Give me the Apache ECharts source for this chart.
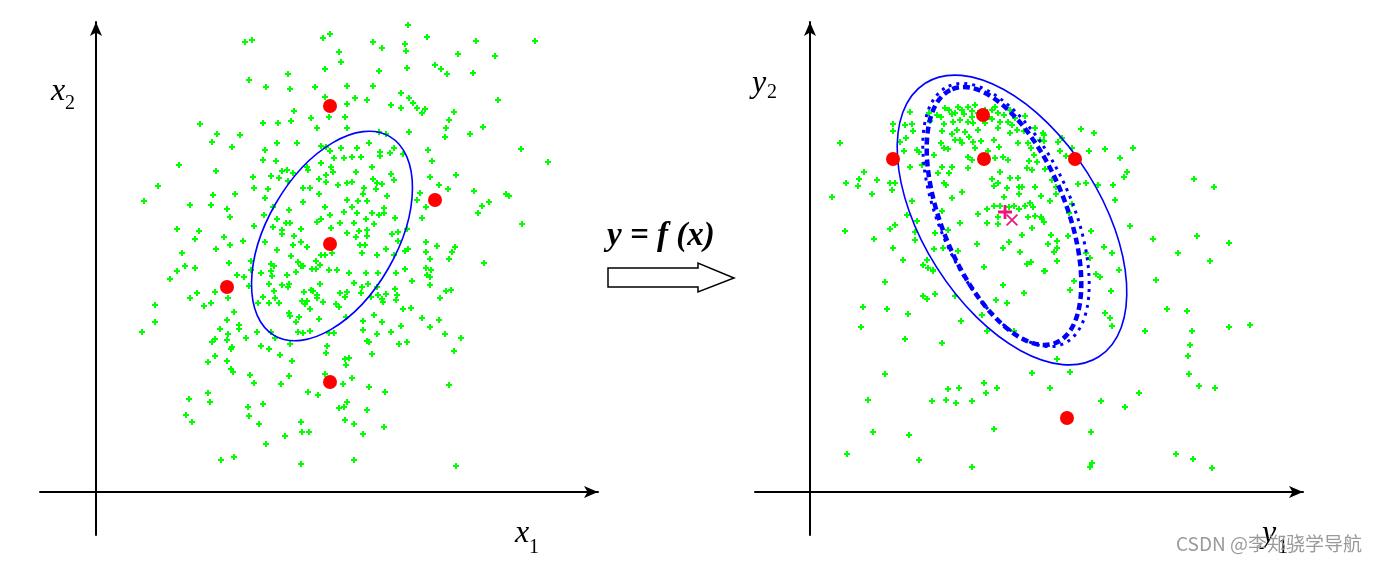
<!DOCTYPE html>
<html>
<head>
<meta charset="utf-8">
<script src="https://cdn.jsdelivr.net/npm/echarts@6/dist/echarts.min.js"></script>
<style>
  html, body { margin: 0; background: #fff; }
  #chart { width: 1382px; height: 562px; }
</style>
</head>
<body>
<div id="chart"></div>
<script>
// ---- input space x = (x1, x2): Monte Carlo samples ----
const xSamples = [
  [149,450],[156,452],[227,454],[234,458],[243,440],[245,430],[192,418],[229,423],[153,412],[170,405],
  [194,403],[219,405],[251,406],[229,395],[198,381],[215,374],[233,375],[249,375],[251,388],[104,368],
  [167,369],[182,369],[195,371],[221,364],[251,364],[121,358],[144,357],[116,350],[136,345],[181,349],
  [201,349],[169,342],[225,346],[230,345],[245,344],[83,327],[120,321],[167,332],[180,331],[234,341],
  [238,334],[248,334],[211,325],[225,329],[235,325],[186,321],[191,322],[197,319],[212,322],[62,306],
  [48,291],[94,287],[115,287],[117,297],[139,298],[157,315],[158,304],[172,303],[175,316],[183,314],
  [192,311],[207,304],[214,304],[223,313],[230,310],[230,317],[237,320],[242,307],[251,309],[223,298],
  [207,290],[169,294],[131,283],[134,275],[81,263],[103,261],[99,253],[128,255],[134,247],[147,251],
  [120,243],[158,266],[168,277],[177,285],[181,273],[193,282],[190,269],[194,269],[186,262],[186,258],
  [177,265],[205,263],[198,256],[205,250],[197,247],[169,250],[229,285],[234,277],[221,270],[225,273],
  [235,264],[244,269],[248,280],[251,292],[251,259],[211,245],
  [312,467],[331,455],[277,450],[286,444],[309,448],[310,441],[380,451],[439,451],[283,421],[311,424],
  [339,427],[345,423],[351,418],[362,438],[399,436],[377,419],[277,406],[259,394],[271,392],[305,399],
  [313,394],[295,387],[305,384],[317,389],[321,384],[326,379],[329,383],[402,392],[358,380],[353,372],
  [350,364],[349,355],[387,365],[374,358],[313,360],[283,360],[290,358],[273,349],[425,343],[452,330],
  [332,342],[336,331],[307,338],[298,344],[284,340],[294,339],[284,336],[261,344],[256,335],[265,335],
  [276,325],[334,315],[360,317],[343,307],[352,303],[378,301],[410,298],[413,296],[393,290],[386,286],
  [382,279],[426,268],[324,299],[321,292],[330,285],[326,274],[260,320],[256,310],[277,313],[281,309],
  [286,308],[295,318],[298,312],[268,304],[291,296],[280,303],[267,298],[262,291],[271,291],[256,285],
  [261,279],[270,273],[276,279],[283,277],[288,279],[288,284],[299,274],[258,269],[278,268],[263,261],
  [271,262],[260,255],[271,256],[296,258],[302,260],[311,263],[302,251],[330,250],[341,246],[359,245],
  [264,247],[269,247],[290,243],[312,243],
  [86,239],[89,226],[99,224],[81,221],[74,213],[133,229],[141,217],[148,215],[155,231],[155,222],
  [153,206],[101,199],[94,194],[119,200],[115,189],[108,186],[132,194],[59,187],[59,170],[46,160],
  [138,180],[131,172],[143,167],[143,163],[124,163],[132,158],[131,152],[119,153],[116,150],[136,145],
  [135,143],[150,154],[119,136],[112,130],[131,131],[135,123],[137,120],[154,117],[158,109],[161,160],
  [165,146],[173,143],[175,160],[179,154],[184,137],[194,148],[196,131],[193,116],[185,108],[212,100],
  [222,97],[112,99],[114,90],[93,93],[90,77],[96,70],[152,85],[153,76],[163,68],[167,88],
  [170,48],[189,56],[205,70],[206,60],[213,60],[205,28],[125,32],[138,35],[229,118],[247,108],
  [251,90],[243,84],[248,85],[249,72],[231,146],[230,139],[249,133],[253,134],[250,127],
  [181,242],[175,228],[178,226],[175,221],[176,216],[165,219],[173,208],[186,207],[193,208],[192,205],
  [178,201],[167,195],[179,194],[183,189],[173,189],[162,189],[195,236],[202,230],[205,226],[207,226],
  [200,220],[191,217],[208,200],[215,202],[217,201],[221,197],[221,194],[227,190],[206,191],[211,191],
  [209,188],[214,183],[193,179],[194,176],[203,175],[200,170],[223,173],[202,160],[207,159],[214,161],
  [233,159],[238,159],[220,231],[225,237],[229,237],[236,239],[224,227],[216,223],[220,223],[233,222],
  [241,222],[224,208],[244,199],[251,200],[249,195],[240,188],[243,185],[250,175],[253,219],
  [356,240],[353,233],[388,229],[266,239],[281,237],[298,237],[309,241],[330,240],[334,233],[330,224],
  [335,222],[331,217],[334,215],[334,207],[309,223],[316,211],[300,219],[270,219],[282,219],[258,209],
  [266,205],[272,208],[281,205],[265,199],[275,195],[282,197],[286,193],[287,190],[290,198],[301,197],
  [300,192],[299,203],[350,201],[355,202],[344,194],[307,183],[315,184],[326,174],[343,172],[334,165],
  [305,166],[295,160],[286,170],[278,177],[267,171],[267,162],[281,158],[271,151],[273,150],[303,148],
  [311,150],[349,158],[365,154],[358,141],[276,138],[256,114],[273,105],[289,100],[353,107],[271,82],
  [258,68],[288,65],[267,58],[258,32],[360,26]
];
const xSigma = [[234,386],[131,205],[234,248],[339,292],[234,110]];
// covariance ellipse: [centre x1, centre x2, semi-major, semi-minor, tilt deg]
const xEllipse = [[236,256,115,65,60]];

// ---- output space y = f(x): transformed samples ----
const ySamples = [
  [30,349],[22,295],[36,309],[49,313],[48,306],[54,320],[67,312],[62,298],[83,368],[83,361],
  [95,367],[102,368],[103,361],[96,354],[90,350],[94,341],[100,380],[107,342],[109,340],[100,325],
  [112,327],[80,309],[85,309],[82,302],[35,261],[64,253],[80,263],[85,267],[83,244],[93,232],
  [97,277],[102,291],[105,260],[105,252],[107,271],[113,227],[117,232],[118,224],[123,222],[125,259],
  [133,244],[124,243],[132,281],[138,262],[150,269],[148,241],[152,300],[142,294],[168,278],[167,248],
  [177,269],[177,283],[174,225],[188,268],[184,286],[188,275],[190,286],[194,295],[199,285],[204,286],
  [209,283],[209,298],[209,305],[215,286],[220,289],[223,285],[218,275],[222,264],[225,276],[231,296],
  [231,275],[234,270],[212,257],[199,250],[210,240],[217,228],[221,230],[234,221],[193,244],[197,304],
  [200,314],[190,320],[198,332],[188,309],[184,306],[182,313],[208,314],[212,305],[217,324],[222,322],
  [219,331],[224,337],[221,344],[218,349],[208,349],[200,359],[207,362],[214,361],[225,364],[233,359],
  [230,352],[215,376],
  [119,379],[120,371],[131,375],[134,368],[132,361],[139,382],[142,378],[143,370],[148,385],[152,382],
  [154,378],[158,385],[162,381],[162,375],[158,370],[163,369],[182,382],[185,385],[188,379],[182,373],
  [175,369],[190,370],[194,377],[198,370],[188,364],[168,362],[155,360],[147,362],[142,358],[150,352],
  [145,352],[152,349],[159,355],[163,350],[171,351],[165,344],[158,335],[162,332],[184,352],[189,345],
  [193,335],[185,334],[178,341],[131,349],[134,344],[138,343],[132,325],[142,325],[158,324],[136,307],
  [134,309],[128,319],[139,319],[124,337],[135,384],[145,379],[168,379],[175,382],[200,382],[178,375],
  [150,372],[127,377],[165,387],[205,374],[202,367],
  [271,363],[284,359],[252,354],[262,344],[279,341],[295,343],[323,344],[310,334],[250,341],[256,336],
  [234,357],[234,351],[227,330],[248,350],[314,315],[317,320],[384,313],[404,305],[268,308],[276,309],
  [288,307],[303,307],[305,292],[262,288],[235,323],[242,312],[246,305],[240,291],[246,298],[225,305],
  [232,273],[259,279],[320,266],[343,253],[387,256],[419,249],[368,239],[400,231],[281,261],[294,245],
  [302,239],[276,239],[280,234],[258,256],[241,257],[238,248],[247,251],[244,240],[247,244],[247,231],
  [235,221],[286,218],[290,215],[309,222],[346,212],
  [75,210],[123,221],[53,185],[77,183],[98,178],[51,165],[113,196],[117,193],[125,198],[145,196],
  [95,153],[132,149],[151,171],[193,207],[214,199],[197,189],[186,192],[172,177],[177,161],[204,161],
  [75,118],[58,92],[63,60],[99,57],[37,38],[109,32],[122,91],[136,92],[146,89],[138,103],
  [149,104],[162,91],[174,109],[176,99],[187,104],[184,63],[162,25],[222,119],
  [260,202],[264,211],[301,201],[295,179],[300,174],[302,166],[357,183],[377,181],[335,161],[382,161],
  [419,165],[440,167],[380,147],[378,136],[379,118],[389,106],[405,104],[329,99],[315,85],[291,91],
  [240,104],[260,120],[247,133],[281,60],[282,29],[280,25],[366,38],[383,33],[402,24]
];
const ySigma = [[83,333],[173,377],[174,333],[265,333],[257,74]];
const yTrueMean = [[195,280]];
const yEstMean = [[202,272]];
// [centre y1, centre y2, semi-major, semi-minor, tilt deg]
const yEllipseTrue = [[202,272,162,89,-57.6]];
const yEllipseUT = [[194,276,137,62,-67.8]];
const yEllipseLin = [[196,277,141,66,-66]];

const GREEN = '#00ff00';
const RED = '#ff0000';
const BLUE = '#0000ff';
const PLUS = 'path://M2,0H4V2H6V4H4V6H2V4H0V2H2Z';

function axisPair(grid, xr, yr) {
  const line = {
    show: true,
    onZero: true,
    symbol: ['none', 'arrow'],
    symbolSize: [9, 14],
    lineStyle: { color: '#000', width: 2 },
  };
  const base = { type: 'value', gridIndex: grid, axisTick: { show: false }, axisLabel: { show: false }, splitLine: { show: false }, axisLine: line };
  return [
    { ...base, min: xr[0], max: xr[1] },
    { ...base, min: yr[0], max: yr[1] },
  ];
}

function ellipseSeries(idx, data, style) {
  return {
    type: 'custom',
    xAxisIndex: idx,
    yAxisIndex: idx,
    data,
    silent: true,
    z: 3,
    renderItem: (params, api) => {
      const c = api.coord([api.value(0), api.value(1)]);
      const s = api.size([api.value(2), api.value(3)]);
      return {
        type: 'ellipse',
        x: c[0],
        y: c[1],
        rotation: (api.value(4) * Math.PI) / 180,
        shape: { cx: 0, cy: 0, rx: s[0], ry: s[1] },
        style: { fill: 'none', stroke: BLUE, ...style },
      };
    },
  };
}

function cloud(idx, data) {
  return { type: 'scatter', xAxisIndex: idx, yAxisIndex: idx, data, symbol: PLUS, symbolSize: 6, itemStyle: { color: GREEN, opacity: 1 }, z: 2 };
}
function sigma(idx, data) {
  return { type: 'scatter', xAxisIndex: idx, yAxisIndex: idx, data, symbol: 'circle', symbolSize: 14, itemStyle: { color: RED, opacity: 1 }, z: 5 };
}

const [lx, ly] = axisPair(0, [-56, 502], [-43, 470]);
const [rx, ry] = axisPair(1, [-55, 493], [-43, 470]);

const serif = 'Liberation Serif, Times New Roman, serif';
function label(x, y, text, size, italic) {
  return {
    type: 'text', x, y, silent: true,
    style: { text, fontFamily: serif, fontSize: size, fontStyle: italic ? 'italic' : 'normal', fill: '#000', align: 'left', verticalAlign: 'middle' },
  };
}

const chart = echarts.init(document.getElementById('chart'));
chart.setOption({
  animation: false,
  backgroundColor: '#fff',
  grid: [
    { left: 40, top: 22, width: 558, height: 513 },
    { left: 755, top: 22, width: 548, height: 513 },
  ],
  xAxis: [lx, rx],
  yAxis: [ly, ry],
  series: [
    cloud(0, xSamples),
    ellipseSeries(0, xEllipse, { lineWidth: 1.6 }),
    sigma(0, xSigma),
    cloud(1, ySamples),
    ellipseSeries(1, yEllipseTrue, { lineWidth: 1.6 }),
    ellipseSeries(1, yEllipseLin, { lineWidth: 3, lineDash: [3, 5] }),
    ellipseSeries(1, yEllipseUT, { lineWidth: 4.5, lineDash: [7, 4] }),
    sigma(1, ySigma),
    { type: 'scatter', xAxisIndex: 1, yAxisIndex: 1, data: yTrueMean, symbol: 'path://M4,0H6V4H10V6H6V10H4V6H0V4H4Z', symbolSize: 14, itemStyle: { color: '#f0147f', opacity: 1 }, z: 6 },
    { type: 'scatter', xAxisIndex: 1, yAxisIndex: 1, data: yEstMean, symbol: 'path://M1,0L5,4L9,0L10,1L6,5L10,9L9,10L5,6L1,10L0,9L4,5L0,1Z', symbolSize: 12, itemStyle: { color: '#f0147f', opacity: 1 }, z: 6 },
  ],
  graphic: [
    label(51, 92, 'x', 32, true),
    label(65, 104, '2', 20, false),
    label(515, 534, 'x', 32, true),
    label(529, 548, '1', 20, false),
    label(752, 84, 'y', 32, true),
    label(767, 93, '2', 20, false),
    label(1262, 534, 'y', 32, true),
    label(1278, 548, '1', 20, false),
    {
      type: 'text', x: 607, y: 236, silent: true,
      style: { text: 'y = f (x)', fontFamily: serif, fontSize: 33, fontWeight: 'bold', fontStyle: 'italic', fill: '#000', align: 'left', verticalAlign: 'middle' },
    },
    {
      type: 'polygon', silent: true,
      shape: { points: [[608, 268], [698, 268], [698, 263], [734, 278], [698, 292], [698, 287], [608, 287]] },
      style: { fill: '#fff', stroke: '#000', lineWidth: 1.5 },
    },
    {
      type: 'text', x: 1176, y: 544, silent: true, z: 100,
      style: { text: 'CSDN @李郑骁学导航', fontFamily: 'Noto Sans CJK SC, sans-serif', fontSize: 19, fill: '#9a9a9a', align: 'left', verticalAlign: 'middle' },
    },
  ],
});
</script>
</body>
</html>
